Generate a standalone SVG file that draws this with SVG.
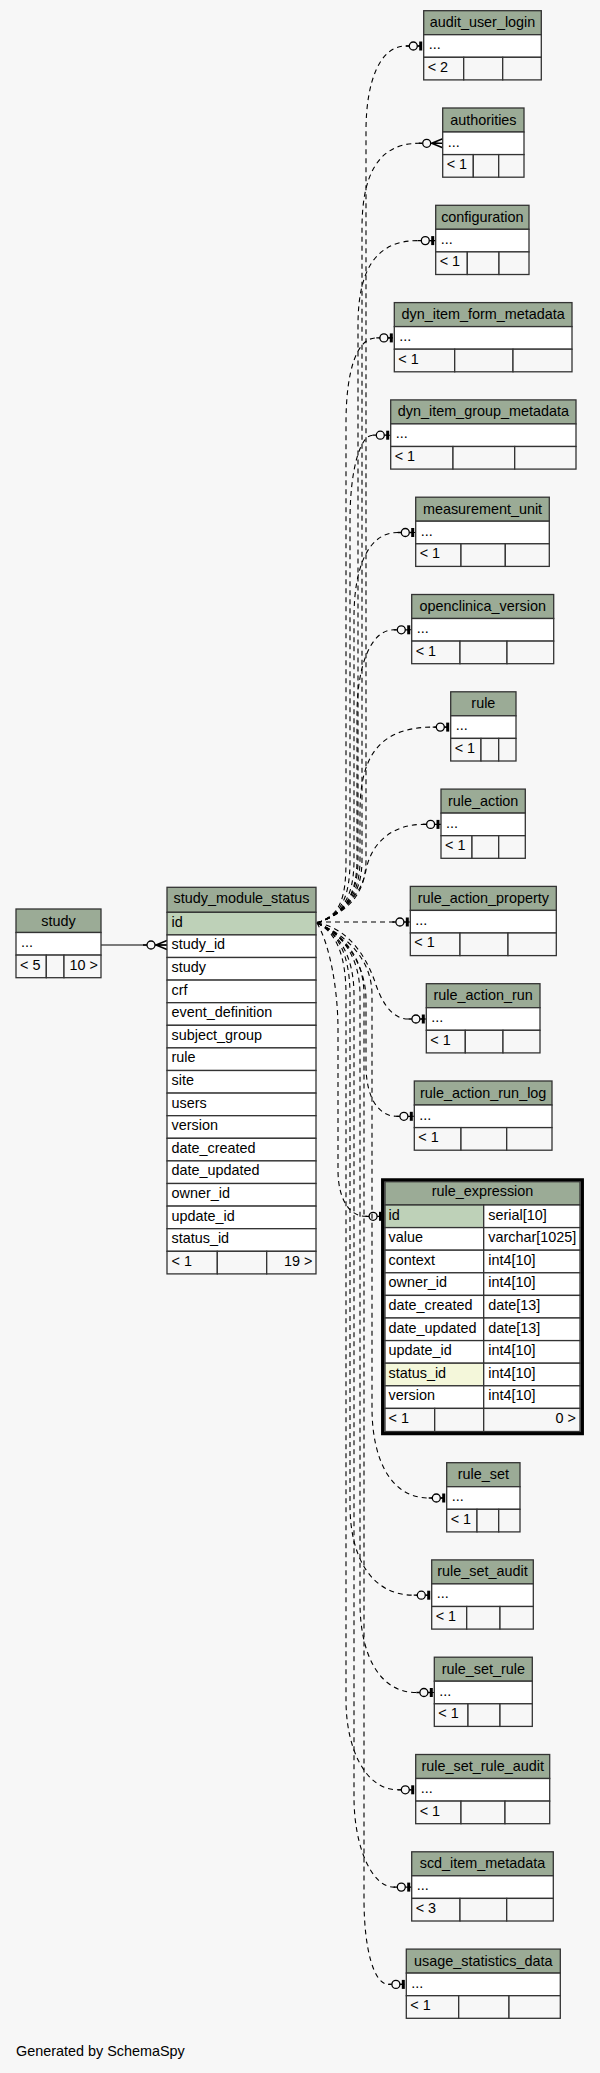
<svg xmlns="http://www.w3.org/2000/svg" width="600" height="2073" viewBox="0 0 600 2073">
<style>
.hd{fill:#9bab96;stroke:#333;stroke-width:1.3}
.bd{fill:#fff;stroke:#333;stroke-width:1.3}
.ft{fill:#f7f7f7;stroke:#333;stroke-width:1.3}
.pk{fill:#bed1b8;stroke:#333;stroke-width:1.3}
.ix{fill:#f4f7da;stroke:#333;stroke-width:1.3}
text{font-family:"Liberation Sans",Arial,sans-serif;font-size:14.4px;fill:#000}
.c{text-anchor:middle}
.r{text-anchor:end}
.e{fill:none;stroke:#000;stroke-width:1.1;stroke-dasharray:5 4}
.s{fill:none;stroke:#000;stroke-width:1.2}
</style>
<defs>
<marker id="zo" markerUnits="userSpaceOnUse" orient="auto" overflow="visible" refX="0" refY="0" markerWidth="1" markerHeight="1">
<path d="M-18,0H-14.4M-6.4,0H-2" stroke="#000" stroke-width="1.3" fill="none"/>
<circle cx="-10.4" cy="0" r="4" fill="#f7f7f7" stroke="#000" stroke-width="1.3"/>
<rect x="-4.5" y="-4.5" width="3" height="9" fill="#000"/>
</marker>
<marker id="zm" markerUnits="userSpaceOnUse" orient="auto" overflow="visible" refX="0" refY="0" markerWidth="1" markerHeight="1">
<path d="M-24,0H-20M-12,0H0M-11,0L0,-4.5M-11,0L0,4.5" stroke="#000" stroke-width="1.5" fill="none"/>
<circle cx="-16" cy="0" r="4" fill="#f7f7f7" stroke="#000" stroke-width="1.3"/>
</marker>
</defs>
<rect width="600" height="2073" fill="#f7f7f7"/>

<g id="connectors">
<path class="s" d="M101,945L167,945" marker-end="url(#zm)"/>
<path class="e" d="M317,923C340,915 366,900 366,860L366,131C366,81 380,46 405.7,46L423.7,46" marker-end="url(#zo)"/>
<path class="e" d="M317,923C340,915 362,900 362,860L362,228.3C362,178.3 376,143.3 418.7,143.3L442.7,143.3" marker-end="url(#zm)"/>
<path class="e" d="M317,923C340,915 358,900 358,860L358,325.6C358,275.6 372,240.6 417.7,240.6L435.7,240.6" marker-end="url(#zo)"/>
<path class="e" d="M317,923C340,915 346,900 346,860L346,422.9C346,372.9 356,337.9 376.3,337.9L394.3,337.9" marker-end="url(#zo)"/>
<path class="e" d="M317,923C340,915 350,900 350,860L350,520.2C350,470.2 360,435.2 372.7,435.2L390.7,435.2" marker-end="url(#zo)"/>
<path class="e" d="M317,923C340,915 354,900 354,860L354,617.5C354,567.5 368,532.5 397.7,532.5L415.7,532.5" marker-end="url(#zo)"/>
<path class="e" d="M317,923C340,915 357,900 357,860L357,714.8C357,664.8 371,629.8 393.7,629.8L411.7,629.8" marker-end="url(#zo)"/>
<path class="e" d="M317,923C340,915 360,900 360,860L360,812.1C360,762.1 375,727.1 432.7,727.1L450.7,727.1" marker-end="url(#zo)"/>
<path class="e" d="M317,923C340,915 362,895 366,870C372,840 395,824.4 423,824.4L441,824.4" marker-end="url(#zo)"/>
<path class="e" d="M317,922L410.3,922" marker-end="url(#zo)"/>
<path class="e" d="M317,923C350,928 368,960 376,985C384,1008 395,1019 408.3,1019L426.3,1019" marker-end="url(#zo)"/>
<path class="e" d="M317,923C345,935 366,965 366,1000L366,1065C366,1100 380,1116.3 396.3,1116.3L414.3,1116.3" marker-end="url(#zo)"/>
<path class="e" d="M317,923C330,945 338,990 338,1030L338,1170C338,1200 350,1216.3 365.5,1216.3L383.5,1216.3" marker-end="url(#zo)"/>
<path class="e" d="M317,923C340,932 372,955 372,995L372,1408C372,1458 390,1498 428.7,1498L446.7,1498" marker-end="url(#zo)"/>
<path class="e" d="M317,923C338,932 350,955 350,995L350,1505.2C350,1555.2 370,1595.2 413.7,1595.2L431.7,1595.2" marker-end="url(#zo)"/>
<path class="e" d="M317,923C340,932 360,955 360,995L360,1602.5C360,1652.5 378,1692.5 416.3,1692.5L434.3,1692.5" marker-end="url(#zo)"/>
<path class="e" d="M317,923C336,932 346,955 346,995L346,1699.8C346,1749.8 366,1789.8 397.7,1789.8L415.7,1789.8" marker-end="url(#zo)"/>
<path class="e" d="M317,923C338,932 354,955 354,995L354,1797.1C354,1847.1 372,1887.1 393.7,1887.1L411.7,1887.1" marker-end="url(#zo)"/>
<path class="e" d="M317,923C340,932 364,955 364,995L364,1899.4C364,1949.4 374,1984.4 388.3,1984.4L406.3,1984.4" marker-end="url(#zo)"/>
</g>

<g id="study" transform="translate(16,909)">
<rect class="hd" width="85" height="23.5"/>
<rect class="bd" y="23.5" width="85" height="22.6"/>
<rect class="ft" y="46.1" width="30.3" height="22.6"/>
<rect class="ft" x="30.3" y="46.1" width="17.7" height="22.6"/>
<rect class="ft" x="48" y="46.1" width="37" height="22.6"/>
<text class="c" x="42.5" y="16.5">study</text>
<text x="5" y="38">...</text>
<text x="4" y="60.6">&lt; 5</text>
<text class="r" x="82" y="60.6">10 &gt;</text>
</g>

<g id="study_module_status" transform="translate(167,887.3)">
<rect class="hd" width="149" height="25"/>
<rect class="pk" y="25" width="149" height="22.6"/>
<rect class="bd" y="47.6" width="149" height="22.6"/>
<rect class="bd" y="70.2" width="149" height="22.6"/>
<rect class="bd" y="92.8" width="149" height="22.6"/>
<rect class="bd" y="115.4" width="149" height="22.6"/>
<rect class="bd" y="138" width="149" height="22.6"/>
<rect class="bd" y="160.6" width="149" height="22.6"/>
<rect class="bd" y="183.2" width="149" height="22.6"/>
<rect class="bd" y="205.8" width="149" height="22.6"/>
<rect class="bd" y="228.4" width="149" height="22.6"/>
<rect class="bd" y="251" width="149" height="22.6"/>
<rect class="bd" y="273.6" width="149" height="22.6"/>
<rect class="bd" y="296.2" width="149" height="22.6"/>
<rect class="bd" y="318.8" width="149" height="22.6"/>
<rect class="bd" y="341.4" width="149" height="22.6"/>
<rect class="ft" y="364" width="50.3" height="22.6"/>
<rect class="ft" x="50.3" y="364" width="49.4" height="22.6"/>
<rect class="ft" x="99.7" y="364" width="49.3" height="22.6"/>
<text class="c" x="74.5" y="16">study_module_status</text>
<text x="4.5" y="39.5">id</text>
<text x="4.5" y="62.1">study_id</text>
<text x="4.5" y="84.7">study</text>
<text x="4.5" y="107.3">crf</text>
<text x="4.5" y="129.9">event_definition</text>
<text x="4.5" y="152.5">subject_group</text>
<text x="4.5" y="175.1">rule</text>
<text x="4.5" y="197.7">site</text>
<text x="4.5" y="220.3">users</text>
<text x="4.5" y="242.9">version</text>
<text x="4.5" y="265.5">date_created</text>
<text x="4.5" y="288.1">date_updated</text>
<text x="4.5" y="310.7">owner_id</text>
<text x="4.5" y="333.3">update_id</text>
<text x="4.5" y="355.9">status_id</text>
<text x="4.5" y="378.5">&lt; 1</text>
<text class="r" x="145.5" y="378.5">19 &gt;</text>
</g>

<g id="rule_expression">
<rect x="382.8" y="1180" width="199.4" height="253.5" fill="none" stroke="#000" stroke-width="3.5"/>
<rect class="hd" x="385" y="1181.7" width="195" height="23.3"/>
<rect class="pk" x="385" y="1205" width="98.7" height="22.6"/>
<rect class="bd" x="483.7" y="1205" width="96.3" height="22.6"/>
<rect class="bd" x="385" y="1227.6" width="98.7" height="22.6"/>
<rect class="bd" x="483.7" y="1227.6" width="96.3" height="22.6"/>
<rect class="bd" x="385" y="1250.2" width="98.7" height="22.6"/>
<rect class="bd" x="483.7" y="1250.2" width="96.3" height="22.6"/>
<rect class="bd" x="385" y="1272.8" width="98.7" height="22.6"/>
<rect class="bd" x="483.7" y="1272.8" width="96.3" height="22.6"/>
<rect class="bd" x="385" y="1295.4" width="98.7" height="22.6"/>
<rect class="bd" x="483.7" y="1295.4" width="96.3" height="22.6"/>
<rect class="bd" x="385" y="1318" width="98.7" height="22.6"/>
<rect class="bd" x="483.7" y="1318" width="96.3" height="22.6"/>
<rect class="bd" x="385" y="1340.6" width="98.7" height="22.6"/>
<rect class="bd" x="483.7" y="1340.6" width="96.3" height="22.6"/>
<rect class="ix" x="385" y="1363.2" width="98.7" height="22.6"/>
<rect class="bd" x="483.7" y="1363.2" width="96.3" height="22.6"/>
<rect class="bd" x="385" y="1385.8" width="98.7" height="22.6"/>
<rect class="bd" x="483.7" y="1385.8" width="96.3" height="22.6"/>
<rect class="ft" x="385" y="1408.4" width="49.7" height="23.1"/>
<rect class="ft" x="434.7" y="1408.4" width="49" height="23.1"/>
<rect class="ft" x="483.7" y="1408.4" width="96.3" height="23.1"/>
<text class="c" x="482.5" y="1196">rule_expression</text>
<text x="388.5" y="1219.5">id</text>
<text x="488.3" y="1219.5">serial[10]</text>
<text x="388.5" y="1242.1">value</text>
<text x="488.3" y="1242.1">varchar[1025]</text>
<text x="388.5" y="1264.7">context</text>
<text x="488.3" y="1264.7">int4[10]</text>
<text x="388.5" y="1287.3">owner_id</text>
<text x="488.3" y="1287.3">int4[10]</text>
<text x="388.5" y="1309.9">date_created</text>
<text x="488.3" y="1309.9">date[13]</text>
<text x="388.5" y="1332.5">date_updated</text>
<text x="488.3" y="1332.5">date[13]</text>
<text x="388.5" y="1355.1">update_id</text>
<text x="488.3" y="1355.1">int4[10]</text>
<text x="388.5" y="1377.7">status_id</text>
<text x="488.3" y="1377.7">int4[10]</text>
<text x="388.5" y="1400.3">version</text>
<text x="488.3" y="1400.3">int4[10]</text>
<text x="388.5" y="1422.9">&lt; 1</text>
<text class="r" x="576" y="1422.9">0 &gt;</text>
</g>

<g id="audit_user_login" transform="translate(423.7,10.7)">
<rect class="hd" width="117.6" height="24"/><rect class="bd" y="24" width="117.6" height="22.6"/>
<rect class="ft" y="46.6" width="40" height="22.6"/><rect class="ft" x="40" y="46.6" width="39" height="22.6"/><rect class="ft" x="79" y="46.6" width="38.6" height="22.6"/>
<text class="c" x="58.8" y="16.5">audit_user_login</text><text x="5" y="38.5">...</text><text x="4" y="61.1">&lt; 2</text>
</g>
<g id="authorities" transform="translate(442.7,108)">
<rect class="hd" width="81.3" height="24"/><rect class="bd" y="24" width="81.3" height="22.6"/>
<rect class="ft" y="46.6" width="30.6" height="22.6"/><rect class="ft" x="30.6" y="46.6" width="25.4" height="22.6"/><rect class="ft" x="56" y="46.6" width="25.3" height="22.6"/>
<text class="c" x="40.65" y="16.5">authorities</text><text x="5" y="38.5">...</text><text x="4" y="61.1">&lt; 1</text>
</g>
<g id="configuration" transform="translate(435.7,205.3)">
<rect class="hd" width="93.3" height="24"/><rect class="bd" y="24" width="93.3" height="22.6"/>
<rect class="ft" y="46.6" width="31.6" height="22.6"/><rect class="ft" x="31.6" y="46.6" width="31.7" height="22.6"/><rect class="ft" x="63.3" y="46.6" width="30" height="22.6"/>
<text class="c" x="46.65" y="16.5">configuration</text><text x="5" y="38.5">...</text><text x="4" y="61.1">&lt; 1</text>
</g>
<g id="dyn_item_form_metadata" transform="translate(394.3,302.6)">
<rect class="hd" width="177.7" height="24"/><rect class="bd" y="24" width="177.7" height="22.6"/>
<rect class="ft" y="46.6" width="60.4" height="22.6"/><rect class="ft" x="60.4" y="46.6" width="58.3" height="22.6"/><rect class="ft" x="118.7" y="46.6" width="59" height="22.6"/>
<text class="c" x="88.85" y="16.5">dyn_item_form_metadata</text><text x="5" y="38.5">...</text><text x="4" y="61.1">&lt; 1</text>
</g>
<g id="dyn_item_group_metadata" transform="translate(390.7,399.9)">
<rect class="hd" width="185.3" height="24"/><rect class="bd" y="24" width="185.3" height="22.6"/>
<rect class="ft" y="46.6" width="62.3" height="22.6"/><rect class="ft" x="62.3" y="46.6" width="61.7" height="22.6"/><rect class="ft" x="124" y="46.6" width="61.3" height="22.6"/>
<text class="c" x="92.65" y="16.5">dyn_item_group_metadata</text><text x="5" y="38.5">...</text><text x="4" y="61.1">&lt; 1</text>
</g>
<g id="measurement_unit" transform="translate(415.7,497.2)">
<rect class="hd" width="133.6" height="24"/><rect class="bd" y="24" width="133.6" height="22.6"/>
<rect class="ft" y="46.6" width="45.3" height="22.6"/><rect class="ft" x="45.3" y="46.6" width="44.3" height="22.6"/><rect class="ft" x="89.6" y="46.6" width="44" height="22.6"/>
<text class="c" x="66.8" y="16.5">measurement_unit</text><text x="5" y="38.5">...</text><text x="4" y="61.1">&lt; 1</text>
</g>
<g id="openclinica_version" transform="translate(411.7,594.5)">
<rect class="hd" width="142" height="24"/><rect class="bd" y="24" width="142" height="22.6"/>
<rect class="ft" y="46.6" width="48.3" height="22.6"/><rect class="ft" x="48.3" y="46.6" width="47" height="22.6"/><rect class="ft" x="95.3" y="46.6" width="46.7" height="22.6"/>
<text class="c" x="71" y="16.5">openclinica_version</text><text x="5" y="38.5">...</text><text x="4" y="61.1">&lt; 1</text>
</g>
<g id="rule" transform="translate(450.7,691.8)">
<rect class="hd" width="65.3" height="24"/><rect class="bd" y="24" width="65.3" height="22.6"/>
<rect class="ft" y="46.6" width="30.3" height="22.6"/><rect class="ft" x="30.3" y="46.6" width="17.7" height="22.6"/><rect class="ft" x="48" y="46.6" width="17.3" height="22.6"/>
<text class="c" x="32.65" y="16.5">rule</text><text x="5" y="38.5">...</text><text x="4" y="61.1">&lt; 1</text>
</g>
<g id="rule_action" transform="translate(441,789.1)">
<rect class="hd" width="84.3" height="24"/><rect class="bd" y="24" width="84.3" height="22.6"/>
<rect class="ft" y="46.6" width="31" height="22.6"/><rect class="ft" x="31" y="46.6" width="26.7" height="22.6"/><rect class="ft" x="57.7" y="46.6" width="26.6" height="22.6"/>
<text class="c" x="42.15" y="16.5">rule_action</text><text x="5" y="38.5">...</text><text x="4" y="61.1">&lt; 1</text>
</g>
<g id="rule_action_property" transform="translate(410.3,886.4)">
<rect class="hd" width="146" height="24"/><rect class="bd" y="24" width="146" height="22.6"/>
<rect class="ft" y="46.6" width="49.7" height="22.6"/><rect class="ft" x="49.7" y="46.6" width="48" height="22.6"/><rect class="ft" x="97.7" y="46.6" width="48.3" height="22.6"/>
<text class="c" x="73" y="16.5">rule_action_property</text><text x="5" y="38.5">...</text><text x="4" y="61.1">&lt; 1</text>
</g>
<g id="rule_action_run" transform="translate(426.3,983.7)">
<rect class="hd" width="113.7" height="24"/><rect class="bd" y="24" width="113.7" height="22.6"/>
<rect class="ft" y="46.6" width="39" height="22.6"/><rect class="ft" x="39" y="46.6" width="37.7" height="22.6"/><rect class="ft" x="76.7" y="46.6" width="37" height="22.6"/>
<text class="c" x="56.85" y="16.5">rule_action_run</text><text x="5" y="38.5">...</text><text x="4" y="61.1">&lt; 1</text>
</g>
<g id="rule_action_run_log" transform="translate(414.3,1081)">
<rect class="hd" width="137.7" height="24"/><rect class="bd" y="24" width="137.7" height="22.6"/>
<rect class="ft" y="46.6" width="46.7" height="22.6"/><rect class="ft" x="46.7" y="46.6" width="45.7" height="22.6"/><rect class="ft" x="92.4" y="46.6" width="45.3" height="22.6"/>
<text class="c" x="68.85" y="16.5">rule_action_run_log</text><text x="5" y="38.5">...</text><text x="4" y="61.1">&lt; 1</text>
</g>
<g id="rule_set" transform="translate(446.7,1462.7)">
<rect class="hd" width="73.3" height="24"/><rect class="bd" y="24" width="73.3" height="22.6"/>
<rect class="ft" y="46.6" width="30.3" height="22.6"/><rect class="ft" x="30.3" y="46.6" width="21.7" height="22.6"/><rect class="ft" x="52" y="46.6" width="21.3" height="22.6"/>
<text class="c" x="36.65" y="16.5">rule_set</text><text x="5" y="38.5">...</text><text x="4" y="61.1">&lt; 1</text>
</g>
<g id="rule_set_audit" transform="translate(431.7,1559.9)">
<rect class="hd" width="101.6" height="24"/><rect class="bd" y="24" width="101.6" height="22.6"/>
<rect class="ft" y="46.6" width="35" height="22.6"/><rect class="ft" x="35" y="46.6" width="33.3" height="22.6"/><rect class="ft" x="68.3" y="46.6" width="33.3" height="22.6"/>
<text class="c" x="50.8" y="16.5">rule_set_audit</text><text x="5" y="38.5">...</text><text x="4" y="61.1">&lt; 1</text>
</g>
<g id="rule_set_rule" transform="translate(434.3,1657.2)">
<rect class="hd" width="98" height="24"/><rect class="bd" y="24" width="98" height="22.6"/>
<rect class="ft" y="46.6" width="33.7" height="22.6"/><rect class="ft" x="33.7" y="46.6" width="32" height="22.6"/><rect class="ft" x="65.7" y="46.6" width="32.3" height="22.6"/>
<text class="c" x="49" y="16.5">rule_set_rule</text><text x="5" y="38.5">...</text><text x="4" y="61.1">&lt; 1</text>
</g>
<g id="rule_set_rule_audit" transform="translate(415.7,1754.5)">
<rect class="hd" width="134" height="24"/><rect class="bd" y="24" width="134" height="22.6"/>
<rect class="ft" y="46.6" width="45.3" height="22.6"/><rect class="ft" x="45.3" y="46.6" width="44" height="22.6"/><rect class="ft" x="89.3" y="46.6" width="44.7" height="22.6"/>
<text class="c" x="67" y="16.5">rule_set_rule_audit</text><text x="5" y="38.5">...</text><text x="4" y="61.1">&lt; 1</text>
</g>
<g id="scd_item_metadata" transform="translate(411.7,1851.8)">
<rect class="hd" width="141.6" height="24"/><rect class="bd" y="24" width="141.6" height="22.6"/>
<rect class="ft" y="46.6" width="48.3" height="22.6"/><rect class="ft" x="48.3" y="46.6" width="46.7" height="22.6"/><rect class="ft" x="95" y="46.6" width="46.6" height="22.6"/>
<text class="c" x="70.8" y="16.5">scd_item_metadata</text><text x="5" y="38.5">...</text><text x="4" y="61.1">&lt; 3</text>
</g>
<g id="usage_statistics_data" transform="translate(406.3,1949.1)">
<rect class="hd" width="154" height="24"/><rect class="bd" y="24" width="154" height="22.6"/>
<rect class="ft" y="46.6" width="52.4" height="22.6"/><rect class="ft" x="52.4" y="46.6" width="50.3" height="22.6"/><rect class="ft" x="102.7" y="46.6" width="51.3" height="22.6"/>
<text class="c" x="77" y="16.5">usage_statistics_data</text><text x="5" y="38.5">...</text><text x="4" y="61.1">&lt; 1</text>
</g>

<text x="16" y="2056">Generated by SchemaSpy</text>
</svg>
